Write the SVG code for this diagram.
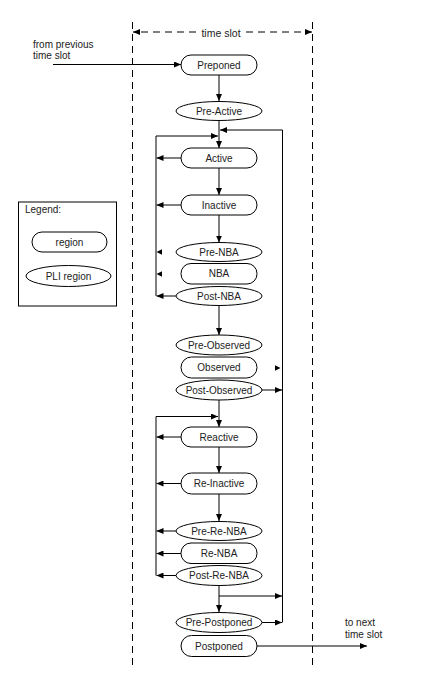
<svg xmlns="http://www.w3.org/2000/svg" width="448" height="673" viewBox="0 0 448 673">
<defs>
<marker id="ah" markerWidth="7" markerHeight="6" refX="7" refY="3" orient="auto" markerUnits="userSpaceOnUse">
<path d="M0,0 L7,3 L0,6 z" fill="#000"/>
</marker>
<style>
.n{fill:#fff;stroke:#000;stroke-width:1}
.t{font-family:"Liberation Sans",Arial,sans-serif;font-size:10px;fill:#222;text-anchor:middle}
.l{font-family:"Liberation Sans",Arial,sans-serif;font-size:10px;fill:#222}
.c{stroke:#000;stroke-width:1;fill:none}
.a{stroke:#000;stroke-width:1;fill:none;marker-end:url(#ah)}
.d{stroke:#000;stroke-width:1;fill:none;stroke-dasharray:7 5}
</style>
</defs>
<rect width="448" height="673" fill="#fff"/>

<g id="timeslot">
<line class="d" x1="132.5" y1="22" x2="132.5" y2="665"/>
<line class="d" x1="312.5" y1="22" x2="312.5" y2="665"/>
<line class="d" x1="196" y1="32" x2="133" y2="32" style="marker-end:url(#ah)"/>
<line class="d" x1="246" y1="32" x2="312" y2="32" style="marker-end:url(#ah)"/>
<text class="t" x="221" y="36.5" style="font-size:10.5px">time slot</text>
</g>

<g id="legend">
<rect class="n" x="18.5" y="202" width="98" height="104"/>
<text class="l" x="25" y="213">Legend:</text>
<rect class="n" x="32" y="232" width="75" height="20" rx="10"/>
<text class="t" x="69.5" y="245.5">region</text>
<ellipse class="n" cx="68.5" cy="276" rx="42.5" ry="10.5"/>
<text class="t" x="68.5" y="279.5">PLI region</text>
</g>

<g id="labels">
<text class="l" x="33" y="48">from previous</text>
<text class="l" x="33" y="58.5">time slot</text>
<text class="l" x="345" y="626">to next</text>
<text class="l" x="345" y="637.5">time slot</text>
</g>

<g id="connectors">
<line class="a" x1="53" y1="64.5" x2="181" y2="64.5"/>
<line class="a" x1="219" y1="75" x2="219" y2="101"/>
<line class="a" x1="219" y1="121" x2="219" y2="148"/>
<polyline class="a" points="156,296 156,136 218,136"/>
<polyline class="a" points="282.5,622.5 282.5,130 220,130"/>
<line class="a" x1="181" y1="158" x2="156.5" y2="158"/>
<line class="a" x1="219" y1="168" x2="219" y2="195"/>
<line class="a" x1="181" y1="205" x2="156.5" y2="205"/>
<line class="a" x1="219" y1="215" x2="219" y2="242.5"/>
<path d="M156.5,252 L162,249.3 L162,254.7 z" fill="#000"/>
<path d="M156.5,274 L162,271.3 L162,276.7 z" fill="#000"/>
<line class="a" x1="176" y1="296" x2="156.5" y2="296"/>
<line class="a" x1="219" y1="305.5" x2="219" y2="335"/>
<path d="M280.5,368 L275,365.3 L275,370.7 z" fill="#000"/>
<line class="a" x1="262" y1="390" x2="282" y2="390"/>
<line class="a" x1="219" y1="400" x2="219" y2="427"/>
<polyline class="a" points="156,575.5 156,416.5 218,416.5"/>
<line class="a" x1="181" y1="437" x2="156.5" y2="437"/>
<line class="a" x1="219" y1="447" x2="219" y2="473"/>
<line class="a" x1="181" y1="483.5" x2="156.5" y2="483.5"/>
<line class="a" x1="219" y1="494" x2="219" y2="521"/>
<line class="a" x1="176" y1="531" x2="156.5" y2="531"/>
<line class="a" x1="181" y1="553.5" x2="156.5" y2="553.5"/>
<line class="a" x1="176" y1="575.5" x2="156.5" y2="575.5"/>
<line class="a" x1="219" y1="585.5" x2="219" y2="612"/>
<line class="a" x1="219" y1="596" x2="282" y2="596"/>
<line class="a" x1="262" y1="622.5" x2="282" y2="622.5"/>
<line class="a" x1="257" y1="646" x2="367" y2="646"/>
</g>

<g id="preponed"><rect class="n" x="181" y="55" width="76" height="20" rx="10"/><text class="t" x="219" y="68.5">Preponed</text></g>
<g id="pre-active"><ellipse class="n" cx="219" cy="111" rx="43" ry="9.5"/><text class="t" x="219" y="114.5">Pre-Active</text></g>
<g id="active"><rect class="n" x="181" y="148" width="76" height="20" rx="10"/><text class="t" x="219" y="161.5">Active</text></g>
<g id="inactive"><rect class="n" x="181" y="195" width="76" height="20" rx="10"/><text class="t" x="219" y="208.5">Inactive</text></g>
<g id="pre-nba"><ellipse class="n" cx="219" cy="252" rx="43" ry="9.5"/><text class="t" x="219" y="255.5">Pre-NBA</text></g>
<g id="nba"><rect class="n" x="181" y="263.5" width="76" height="20.5" rx="10"/><text class="t" x="219" y="277">NBA</text></g>
<g id="post-nba"><ellipse class="n" cx="219" cy="296" rx="43" ry="9.5"/><text class="t" x="219" y="299.5">Post-NBA</text></g>
<g id="pre-observed"><ellipse class="n" cx="219" cy="345" rx="43" ry="10"/><text class="t" x="219" y="348.5">Pre-Observed</text></g>
<g id="observed"><rect class="n" x="181" y="357" width="76" height="21" rx="10.5"/><text class="t" x="219" y="371">Observed</text></g>
<g id="post-observed"><ellipse class="n" cx="219" cy="390" rx="43" ry="10"/><text class="t" x="219" y="393.5">Post-Observed</text></g>
<g id="reactive"><rect class="n" x="181" y="427" width="76" height="20" rx="10"/><text class="t" x="219" y="440.5">Reactive</text></g>
<g id="re-inactive"><rect class="n" x="181" y="473" width="76" height="21" rx="10.5"/><text class="t" x="219" y="487">Re-Inactive</text></g>
<g id="pre-re-nba"><ellipse class="n" cx="219" cy="531" rx="43" ry="9.5"/><text class="t" x="219" y="534.5">Pre-Re-NBA</text></g>
<g id="re-nba"><rect class="n" x="181" y="543" width="76" height="20.5" rx="10"/><text class="t" x="219" y="556.5">Re-NBA</text></g>
<g id="post-re-nba"><ellipse class="n" cx="219" cy="575.5" rx="43" ry="10"/><text class="t" x="219" y="579">Post-Re-NBA</text></g>
<g id="pre-postponed"><ellipse class="n" cx="219" cy="622.5" rx="43" ry="10"/><text class="t" x="219" y="626">Pre-Postponed</text></g>
<g id="postponed"><rect class="n" x="181" y="635.5" width="76" height="21" rx="10.5"/><text class="t" x="219" y="649.5">Postponed</text></g>
</svg>
